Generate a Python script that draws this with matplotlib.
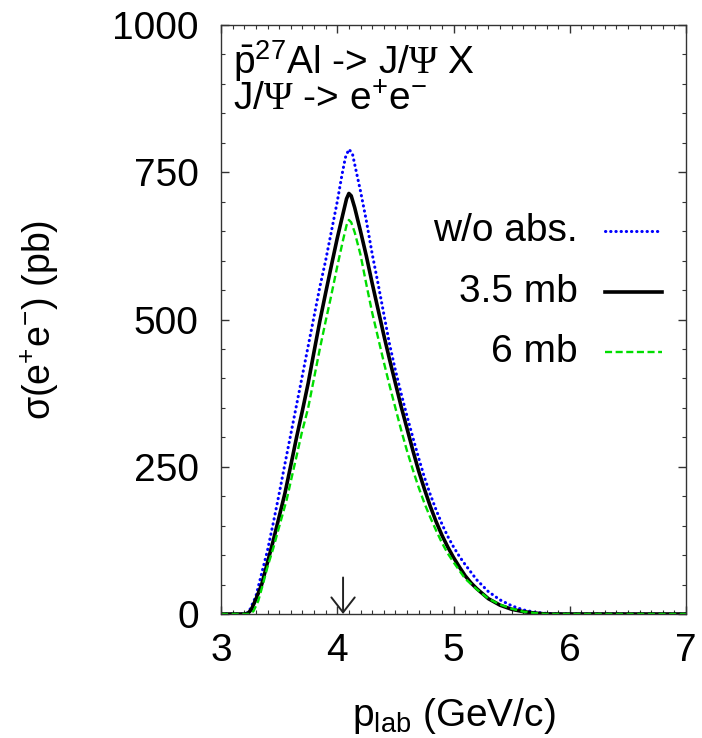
import matplotlib
matplotlib.use('Agg')
import matplotlib.pyplot as plt
from matplotlib.ticker import MultipleLocator

plt.rcParams['font.family'] = ['Liberation Sans', 'DejaVu Sans']
plt.rcParams['mathtext.fontset'] = 'custom'
plt.rcParams['mathtext.rm'] = 'Liberation Sans'
plt.rcParams['mathtext.sf'] = 'Liberation Serif'

# ---- data ----
x_noabs = [3.0, 3.2, 3.22, 3.25, 3.3, 3.364, 3.4, 3.45, 3.49, 3.55, 3.6, 3.65, 3.7,
           3.75, 3.8, 3.85, 3.9, 3.95, 4.0, 4.04, 4.07, 4.1, 4.13, 4.167, 4.2,
           4.25, 4.3, 4.35, 4.4, 4.45, 4.5, 4.55, 4.6, 4.65, 4.7, 4.75, 4.8,
           4.85, 4.9, 4.95, 5.0, 5.05, 5.1, 5.2, 5.3, 5.4, 5.5, 5.6, 5.7, 5.8,
           5.9, 7.0]
y_noabs = [0, 0, 1, 8, 30, 80, 108, 155, 194, 255, 305, 355, 405,
           455, 505, 555, 600, 650, 700, 745, 775, 789, 782, 748, 718,
           668, 612, 562, 510, 458, 414, 374, 336, 300, 265, 232, 203,
           177, 153, 132, 114, 98, 84, 58, 38, 24, 14, 7, 3, 1,
           0, 0]

x_35mb = [3.0, 3.2, 3.23, 3.26, 3.3, 3.35, 3.39, 3.45, 3.5, 3.55, 3.6, 3.65, 3.7,
          3.75, 3.8, 3.85, 3.9, 3.95, 4.0, 4.05, 4.08, 4.1, 4.12, 4.15, 4.2,
          4.25, 4.3, 4.35, 4.4, 4.45, 4.5, 4.55, 4.6, 4.65, 4.7, 4.75, 4.8,
          4.85, 4.9, 4.95, 5.0, 5.05, 5.1, 5.15, 5.2, 5.3, 5.4, 5.5, 5.6, 5.7,
          5.8, 7.0]
y_35mb = [0, 0, 1, 7, 25, 50, 80, 125, 165, 205, 252, 300, 345,
          392, 445, 497, 545, 592, 638, 680, 705, 714, 710, 690, 650,
          608, 562, 518, 474, 432, 392, 352, 315, 278, 243, 212, 183,
          157, 134, 114, 96, 80, 65, 53, 43, 26, 15, 8, 4, 1.5,
          0, 0]

x_6mb = [3.0, 3.25, 3.28, 3.32, 3.36, 3.4, 3.45, 3.5, 3.565, 3.6, 3.65, 3.694,
         3.75, 3.8, 3.85, 3.9, 3.94, 4.0, 4.05, 4.08, 4.1, 4.12, 4.15, 4.2,
         4.25, 4.3, 4.35, 4.4, 4.45, 4.5, 4.55, 4.6, 4.65, 4.7, 4.75, 4.8,
         4.85, 4.9, 4.95, 5.0, 5.05, 5.1, 5.2, 5.3, 5.4, 5.5, 5.6, 5.7, 5.8,
         7.0]
y_6mb = [0, 0, 5, 22, 50, 80, 112, 148, 194, 225, 268, 307,
         350, 400, 450, 497, 533, 590, 635, 660, 669, 665, 648, 610,
         560, 512, 470, 428, 388, 350, 312, 277, 245, 215, 188, 164,
         142, 121, 103, 88, 74, 60, 42, 26, 16, 9, 4, 1.5, 0,
         0]

labels = ['w/o abs.', '3.5 mb', '6 mb']
colors = ['#0000ff', '#000000', '#00dd00']
ARROW_X = 4.05
ARROW_TOP = 62

fig = plt.figure(figsize=(7.02, 7.38), dpi=100)
ax = fig.add_axes([221/702, 124/738, 465/702, 589/738])

styles = [dict(lw=2.2, linestyle=(0, (0.1, 1.6)), dash_capstyle='round'),
          dict(lw=2.6, linestyle='-'),
          dict(lw=1.7, linestyle=(0, (3, 1.5)))]

ax.plot(x_noabs, y_noabs, color=colors[0], **styles[0])
ax.plot(x_35mb, y_35mb, color=colors[1], **styles[1])
ax.plot(x_6mb, y_6mb, color=colors[2], **styles[2])

ax.annotate('', xy=(ARROW_X, 0), xytext=(ARROW_X, ARROW_TOP),
            arrowprops=dict(arrowstyle='->,head_length=0.45,head_width=0.35',
                            color='#222222', lw=1.4,
                            mutation_scale=24, shrinkA=0, shrinkB=0))

ax.set_xlim(3, 7)
ax.set_ylim(0, 1000)
ax.xaxis.set_major_locator(MultipleLocator(1))
ax.xaxis.set_minor_locator(MultipleLocator(0.1))
ax.yaxis.set_major_locator(MultipleLocator(250))
ax.yaxis.set_minor_locator(MultipleLocator(50))
ax.tick_params(which='both', direction='in', top=True, right=True,
               color='#333333')
ax.tick_params(which='major', length=6, width=1.0, labelsize=28)
ax.tick_params(axis='x', which='major', pad=14)
ax.tick_params(axis='y', which='major', pad=16)
ax.tick_params(which='minor', length=3, width=0.8)
for sp in ax.spines.values():
    sp.set_color('#333333')
    sp.set_linewidth(1.0)

ax.set_xlabel(r'p$_{\rm lab}$ (GeV/c)', fontsize=28)
ax.xaxis.set_label_coords(0.5, -0.14)
ax.set_ylabel(r'σ(e$^{+}$e$^{-}$) (pb)', fontsize=27)
ax.yaxis.set_label_coords(-0.345, 0.5)

# reaction label, two lines in one text block
ax.text(0.026, 0.978,
        r'$\bar{\rm p}^{27}$Al -> J/$\mathsf{\Psi}$ X' + '\n'
        + r'J/$\mathsf{\Psi}$ -> e$^{+}$e$^{-}$',
        transform=ax.transAxes, fontsize=28, va='top', ha='left',
        linespacing=0.95)

# gnuplot style key: right aligned text, line sample after it
rows = [0.650, 0.547, 0.445]
for lab, c, st, yy in zip(labels, colors, styles, rows):
    ax.text(0.768, yy, lab, transform=ax.transAxes, fontsize=28,
            ha='right', va='center')
    ax.plot([0.826, 0.948], [yy, yy], transform=ax.transAxes, color=c, **st)

fig.savefig('out.png', dpi=100)
